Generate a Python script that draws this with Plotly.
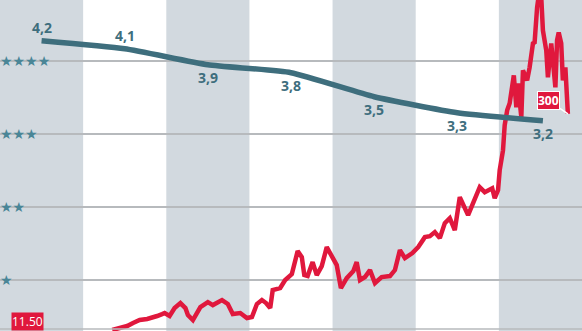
import plotly.graph_objects as go

# ---- data ----
years_band = [2012, 2013, 2014, 2015, 2016, 2017, 2018]
rating_x = [2012.5, 2013.5, 2014.5, 2015.5, 2016.5, 2017.5, 2018.53]
rating_y = [4.2, 4.1, 3.9, 3.8, 3.5, 3.3, 3.2]
rating_labels = ["4,2", "4,1", "3,9", "3,8", "3,5", "3,3", "3,2"]
label_above = [True, True, False, False, False, False, False]

star_levels = [1, 2, 3, 4]
star_labels = ["★", "★★", "★★★", "★★★★"]

price_x = [2013.35, 2013.44, 2013.53, 2013.60, 2013.68, 2013.77, 2013.83, 2013.89, 2013.95, 2013.98,
           2014.04, 2014.10, 2014.17, 2014.23, 2014.26, 2014.32, 2014.41, 2014.50, 2014.56, 2014.62,
           2014.67, 2014.74, 2014.80, 2014.89, 2014.97, 2015.03, 2015.09, 2015.15, 2015.20, 2015.25,
           2015.28, 2015.37, 2015.43, 2015.51, 2015.55, 2015.58, 2015.63, 2015.66, 2015.70, 2015.76,
           2015.81, 2015.87, 2015.93, 2015.99, 2016.05, 2016.10, 2016.17, 2016.25, 2016.29, 2016.33,
           2016.39, 2016.45, 2016.51, 2016.59, 2016.69, 2016.75, 2016.81, 2016.87, 2016.96, 2017.03,
           2017.11, 2017.17, 2017.23, 2017.29, 2017.35, 2017.41, 2017.47, 2017.53, 2017.59, 2017.63,
           2017.69, 2017.77, 2017.83, 2017.92, 2017.95, 2017.99, 2018.01, 2018.05, 2018.07, 2018.10,
           2018.13, 2018.16, 2018.18, 2018.21, 2018.23, 2018.27, 2018.29, 2018.34, 2018.37, 2018.41,
           2018.43, 2018.46, 2018.48, 2018.51, 2018.53, 2018.57, 2018.59, 2018.63, 2018.65, 2018.68,
           2018.70, 2018.72, 2018.75, 2018.77, 2018.80, 2018.82, 2018.83]
price_y = [11.5, 14.2, 16.8, 20.8, 24.8, 26.2, 27.5, 30.2, 32.8, 34.2,
           30.2, 40.8, 47.5, 40.8, 31.5, 24.8, 42.2, 48.8, 44.8, 48.8,
           51.5, 46.2, 32.8, 34.2, 27.5, 28.8, 46.2, 51.5, 47.5, 40.8,
           64.8, 67.5, 78.2, 86.2, 104.8, 116.8, 108.8, 84.8, 83.5, 102.2,
           84.8, 96.8, 122.2, 110.2, 98.2, 67.5, 80.8, 90.2, 102.2, 78.2,
           82.2, 91.5, 74.2, 82.2, 83.5, 91.5, 118.2, 107.5, 114.2, 122.2,
           135.5, 136.8, 142.2, 134.2, 154.2, 160.8, 144.8, 188.8, 175.5, 164.8,
           180.8, 202.2, 195.5, 200.8, 187.5, 198.2, 224.8, 251.5, 284.8, 304.8,
           314.2, 338.2, 351.5, 308.8, 340.8, 295.5, 358.2, 344.8, 362.2, 394.2,
           395.5, 442.2, 458.2, 455.5, 411.5, 384.8, 348.8, 394.2, 362.2, 335.5,
           398.2, 408.8, 394.2, 344.8, 362.2, 318.2, 300.0]
start_label = "11.50"
end_label = "300"

# ---- styles ----
RED = "#e0183d"
TEAL = "#3e6e7d"
STAR = "#4a8697"
BAND = "#d2d9df"
GRID = "#b7babd"

fig = go.Figure()

fig.add_trace(go.Scatter(x=rating_x, y=rating_y, yaxis="y2", mode="lines",
                         line=dict(color=TEAL, width=5.5, shape="spline", smoothing=0.5),
                         hoverinfo="skip", showlegend=False))
fig.add_trace(go.Scatter(x=price_x, y=price_y, yaxis="y", mode="lines",
                         line=dict(color=RED, width=4.5, shape="linear"),
                         hoverinfo="skip", showlegend=False))

shapes = []
for i, yr in enumerate(years_band):
    if i % 2 == 0:
        shapes.append(dict(type="rect", xref="x", yref="paper", x0=yr, x1=yr + 1, y0=0, y1=1,
                           fillcolor=BAND, line=dict(width=0), layer="below"))
shapes.append(dict(type="line", xref="paper", yref="paper", x0=0, x1=1, y0=2 / 331, y1=2 / 331,
                   line=dict(color=GRID, width=1.5)))

annotations = []
for lv, lab in zip(star_levels, star_labels):
    annotations.append(dict(x=0, xref="paper", y=lv, yref="y3", text=lab, showarrow=False,
                            xanchor="left", yanchor="middle", xshift=-2,
                            font=dict(family="DejaVu Sans", size=14, color=STAR)))
for x, y, t, up in zip(rating_x, rating_y, rating_labels, label_above):
    annotations.append(dict(x=x, xref="x", y=y, yref="y2", text="<b>" + t + "</b>", showarrow=False,
                            xanchor="center", yanchor="middle", yshift=13 if up else -13,
                            font=dict(family="Open Sans", size=14, color=TEAL)))
annotations.append(dict(x=11 / 582, xref="paper", y=0, yref="paper", text=start_label,
                        showarrow=False, xanchor="left", yanchor="bottom", bgcolor=RED,
                        borderpad=0, font=dict(family="Open Sans", size=12, color="white")))
annotations.append(dict(x=price_x[-1], xref="x", y=price_y[-1], yref="y", text="<b>" + end_label + "</b>",
                        showarrow=True, ax=-19, ay=-13, arrowhead=0, arrowwidth=1.5, arrowcolor="white",
                        standoff=0, bgcolor=RED, bordercolor="white", borderwidth=1, borderpad=0,
                        font=dict(family="Open Sans", size=12, color="white")))

fig.update_layout(
    width=582, height=331,
    margin=dict(l=0, r=0, t=0, b=0),
    paper_bgcolor="white", plot_bgcolor="white",
    showlegend=False,
    xaxis=dict(range=[2012, 2019], visible=False, fixedrange=True),
    yaxis=dict(range=[10.17, 452.1], visible=False, fixedrange=True),
    yaxis2=dict(range=[0.571, 4.709], overlaying="y", visible=False, fixedrange=True),
    yaxis3=dict(range=[0.302, 4.836], overlaying="y", visible=True, showticklabels=False,
                tickvals=star_levels, showgrid=True, gridcolor=GRID, gridwidth=1.5,
                zeroline=False, showline=False, ticks="", fixedrange=True),
    shapes=shapes,
    annotations=annotations,
)

fig.write_html("out.html")
